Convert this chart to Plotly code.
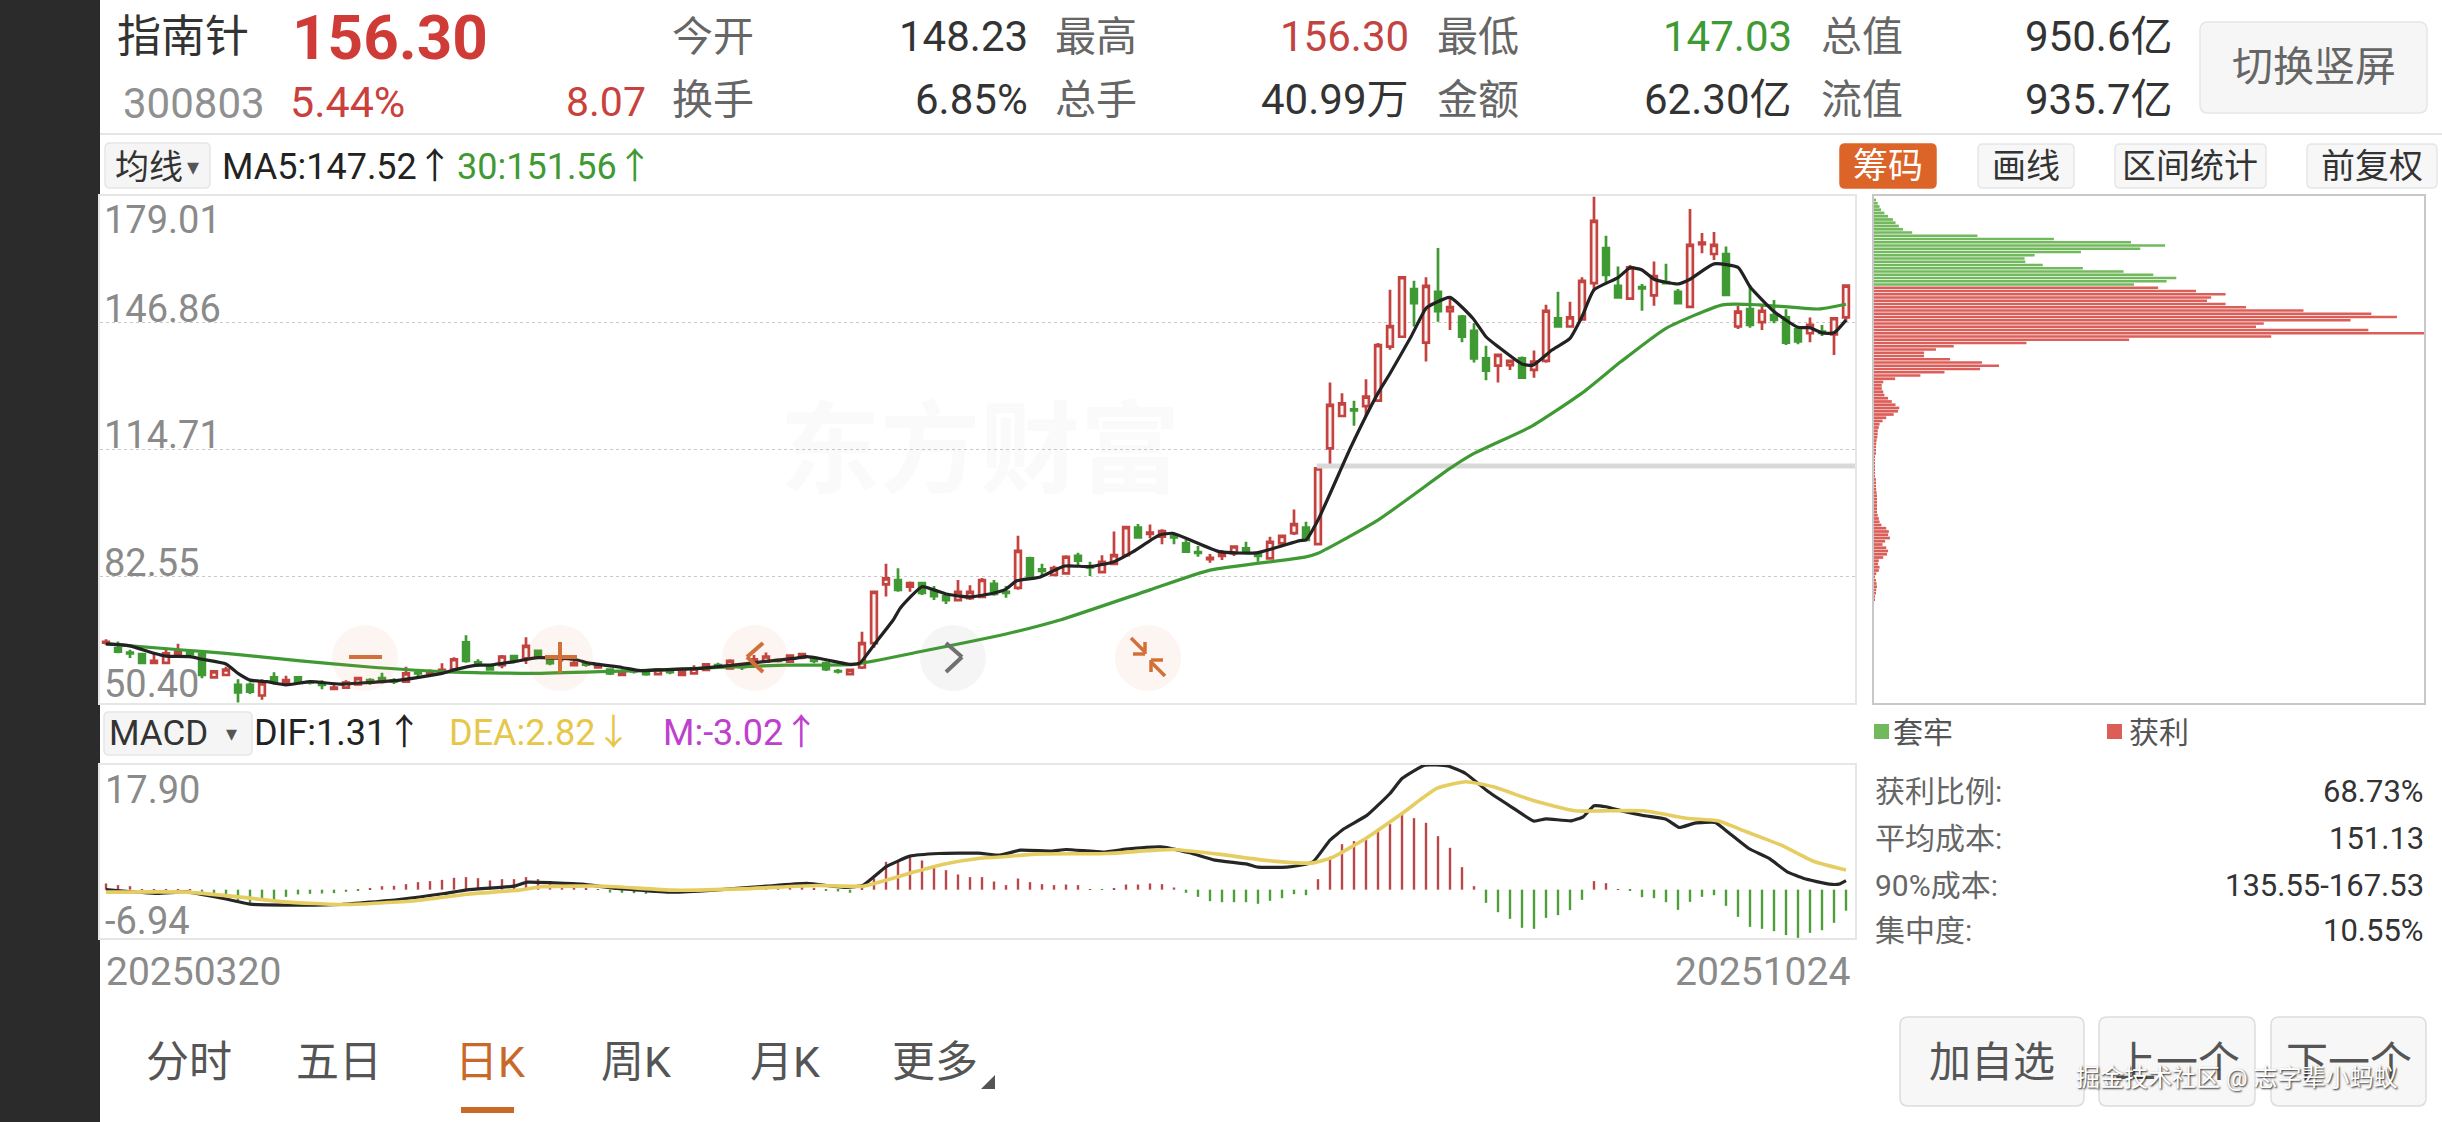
import plotly.graph_objects as go

W, H = 2442, 1122

# ---------- price data, one entry per trading day 20250320 .. 20251024 ----------
opens = [65.7,64.3,63.2,62.8,60.6,60.6,62.8,63.2,62.8,56.9,57.5,55.0,55.0,52.3,56.9,55.4,56.9,55.7,55.2,54.0,
54.3,55.1,56.2,56.7,56.1,55.8,58.1,57.9,58.4,58.9,65.8,60.7,59.8,60.0,62.3,61.7,63.6,61.9,61.9,60.0,
60.3,59.4,58.9,57.5,58.5,58.6,57.7,58.4,57.5,57.9,58.8,60.0,59.2,59.6,60.5,60.9,61.3,60.9,61.9,61.5,
60.5,58.5,57.7,59.4,65.6,80.5,81.6,79.9,80.8,78.7,77.5,76.5,77.0,77.3,80.6,78.6,79.6,87.1,84.3,82.9,
83.3,87.7,85.0,83.6,85.7,87.9,94.9,93.3,92.6,92.8,90.9,88.7,86.9,87.7,88.4,89.6,88.4,87.1,90.9,93.5,
94.9,90.7,115.0,123.2,124.9,125.7,127.1,140.8,143.3,155.4,141.8,154.7,149.8,148.4,144.8,137.8,136.0,136.1,137.8,134.9,
137.2,148.0,145.9,147.7,156.9,165.8,156.2,153.0,155.9,153.8,157.2,154.7,150.9,166.8,164.3,164.3,145.9,150.3,147.0,148.8,
148.2,145.2,144.2,144.6,143.9,148.23]
highs = [66.6,66.0,63.9,63.0,63.0,64.3,65.4,64.0,63.2,58.6,59.6,56.4,55.6,56.4,58.2,57.3,57.1,56.2,56.2,55.4,
56.2,56.9,56.7,58.1,56.7,59.6,58.8,58.9,60.5,62.0,67.6,61.5,60.3,62.6,62.6,67.1,64.0,62.3,62.6,61.5,
60.9,60.3,59.2,58.9,58.9,58.9,59.2,58.8,58.9,60.0,60.5,60.6,61.5,60.3,62.6,63.2,61.7,62.6,63.0,61.9,
60.9,59.0,58.9,68.5,78.8,85.7,84.6,81.2,81.0,80.1,78.0,81.6,80.3,82.1,81.6,80.1,92.8,87.5,85.7,85.2,
87.9,88.5,86.2,87.9,93.9,95.3,95.8,95.7,94.5,93.5,91.8,90.2,88.2,89.2,90.2,91.3,88.8,92.6,93.0,99.5,
96.4,110.3,131.7,129.0,127.1,132.5,141.7,155.2,158.5,157.5,158.4,165.8,153.1,148.8,146.7,141.0,138.9,137.4,138.3,139.8,
151.4,154.7,152.2,158.4,178.8,168.9,161.1,161.5,156.7,162.4,161.8,155.4,175.7,169.6,169.9,166.2,151.1,156.4,151.4,152.6,
150.3,146.0,148.2,146.3,148.1,156.30]
lows = [65.1,63.0,61.8,60.2,60.6,60.5,62.8,62.0,56.7,56.7,57.5,50.5,52.7,51.2,55.0,55.0,55.4,55.1,53.9,54.0,
54.1,55.0,55.0,55.4,55.2,55.6,57.1,57.8,57.9,58.4,60.6,59.6,58.6,59.2,60.5,60.3,61.7,60.0,60.9,59.8,
59.6,59.2,57.5,57.3,57.9,57.3,57.5,57.7,57.3,57.8,58.6,59.2,59.0,58.8,60.3,60.6,60.7,60.7,61.5,60.5,
58.5,57.9,57.6,59.0,64.4,77.4,78.6,78.6,77.8,76.5,75.5,76.3,76.5,77.0,77.6,77.1,79.1,81.6,82.9,82.6,
83.2,85.0,82.6,83.4,85.4,87.5,92.3,92.2,90.7,90.7,88.5,87.5,86.0,86.7,87.7,88.5,86.2,86.9,90.5,93.0,
91.6,90.6,111.0,123.0,120.7,123.2,126.8,140.0,143.2,145.9,137.0,147.1,145.0,141.9,136.8,132.3,131.7,134.9,132.8,132.9,
136.7,145.7,145.7,147.5,155.2,156.9,153.3,152.8,149.9,151.2,156.9,151.5,150.8,164.5,162.8,153.7,145.3,145.6,145.0,146.7,
141.2,141.4,141.9,143.5,138.7,147.03]
closes = [65.9,63.4,63.0,60.6,61.1,63.0,63.7,62.8,57.5,58.4,58.9,53.1,53.3,55.4,55.6,56.2,55.8,55.6,55.0,54.3,
55.6,56.7,55.7,56.4,55.9,57.9,57.9,58.4,58.8,61.5,61.1,60.5,58.9,62.2,61.1,64.9,62.3,60.5,62.2,60.5,
60.1,59.8,57.9,58.4,58.4,57.7,58.9,58.2,58.4,59.2,60.2,59.6,61.1,59.5,61.5,62.2,61.1,62.4,62.8,61.1,
59.0,58.4,58.8,65.6,78.6,82.0,79.1,80.8,78.3,77.5,76.5,78.6,78.6,81.6,78.1,78.3,89.0,82.0,83.9,84.6,
87.5,86.5,84.8,86.2,87.9,95.0,92.4,93.6,94.0,92.4,88.8,88.5,87.2,88.4,90.1,89.0,87.7,91.3,92.8,95.8,
91.8,109.9,126.0,126.4,124.6,128.1,141.2,146.0,158.4,151.8,156.2,149.8,150.8,143.3,137.8,134.7,138.7,137.2,132.9,137.0,
149.9,145.9,148.2,157.5,172.7,159.0,153.3,160.9,155.6,158.7,156.9,151.8,166.6,167.2,166.6,153.9,149.7,146.3,149.9,147.6,
141.8,142.1,146.3,144.3,148.0,156.30]
days = list(range(len(closes)))

ma5_day = [0,2,4,5,7,8,10,11,12,13.4,15,17,19.5,21.7,24.5,28,29,31,32,34,36,39,40.3,43,44.5,46,49.5,51.7,54.8,57.3,58.4,59.8,62,62.8,64.2,65.6,66.2,68,69,70,72,74,75,75.9,77.8,79.9,82,84,85.6,87.8,88.9,92.8,95.9,99.5,100,101,103.75,106,107,108.75,110,110.7,112,113.9,115,116,118,118.9,120.5,122,123,124,126,127,128,129,131,132,134,136,137,139,141,142,143,144,145]
ma5_val = [65.4,64.9,63.0,62.3,62.15,61.5,60.3,57.9,56.2,55.8,55.0,55.8,55.2,55.55,56.2,57.9,58.8,60.0,60.0,60.9,61.9,61.5,60.5,59.4,58.6,58.8,59.2,59.8,60.9,61.7,62.15,61.5,60.2,60.5,65.95,71.45,74.5,79.9,79.1,78.05,77.3,78.3,79.3,81.4,82.3,85.15,85.0,86.25,88.8,93.0,93.45,88.8,88.5,91.6,91.75,96.8,115.4,129.0,134.0,143.3,150.5,151.8,153.3,148.0,143.3,140.8,136.4,136.1,139.95,142.9,148.4,155.2,158.3,160.8,160.25,157.9,156.7,157.9,161.8,160.9,156.0,149.7,145.7,145.6,144.3,144.3,147.52]

ma30_day = [0,6.4,10,16.2,21.7,28.4,35.6,42.8,44.5,51,56.7,62.3,67.8,75,79.5,87,92,99.9,101,106,112,114,118.75,123,126.25,130,134.7,137.8,142.7,145]
ma30_val = [65.4,63.85,63.0,61.1,59.6,58.3,57.9,58.5,58.6,59.4,60.0,60.2,63.4,67.9,71.45,79.1,84.1,87.4,88.4,96.8,109.9,113.7,120.5,129.0,137.0,145.45,151.4,151.4,150.35,151.56]

band_day = [100.9, 145.75]
band_val = [110.5, 110.5]

price_ticks = [146.86, 114.71, 82.55]

# ---------- MACD ----------
macd_m = [.89,.65,.50,.07,.05,.07,.07,.02,-.65,-.89,-1.03,-1.51,-1.89,-1.60,-1.36,-1.03,-.69,-.60,-.55,-.50,
-.31,-.07,.22,.50,.55,.79,1.08,1.22,1.41,1.70,1.80,1.65,1.32,1.51,1.51,1.80,1.51,.98,.74,.41,
.26,.07,-.41,-.45,-.50,-.60,-.45,-.36,-.41,-.31,-.07,-.02,.22,.31,.31,.65,.55,.50,.55,.26,
-.17,-.26,-.45,.26,1.60,4.0,4.09,4.62,4.19,3.52,2.80,2.18,1.80,1.80,1.17,.65,1.60,1.08,.79,.65,
.74,.65,.02,-.02,.12,.74,.74,.89,.79,.31,-.45,-1.03,-1.65,-1.80,-1.80,-1.80,-2.03,-1.60,-1.22,-.65,
-.79,1.51,4.72,6.53,6.97,7.20,8.55,9.41,10.94,10.27,9.60,7.68,6.01,3.23,.50,-1.89,-3.23,-4.19,-5.48,-5.62,
-4.05,-3.66,-2.94,-1.46,1.22,.93,.02,-.12,-1.08,-1.22,-1.80,-2.90,-1.75,-1.03,-.79,-2.32,-3.90,-5.34,-5.62,-5.96,
-6.53,-6.92,-6.20,-5.82,-4.76,-3.02]

dif_day = [0,4.3,6.7,9.8,12,16.2,19.6,24.4,28.2,30.1,34,35.1,37.3,39.7,42.6,47.3,50.7,55,58.4,61.7,63.1,65,67,69.4,72.7,74.5,76.2,78.8,80,83.1,85,87.9,90.3,92.4,95.1,96,98.4,99.4,100.6,102,103.2,105.1,107,108,109.9,111.8,113.3,115.2,117.1,119,120,122.1,123.1,124,125,126.4,128.1,130,131.1,132.4,134.1,135.3,136.9,138.6,140.1,141.5,143.6,144.4,145]
dif_val = [.02,-.55,-.31,-1.27,-2.08,-2.23,-2.13,-1.41,-.55,-.02,.5,1.08,.98,.79,.17,-.36,-.07,.5,.89,.31,.65,3.28,4.81,5.19,5.24,4.95,5.67,5.53,5.77,5.39,5.82,6.15,5.29,4.24,3.66,3.23,3.23,3.47,4.0,7.11,8.78,10.70,13.81,15.96,17.88,17.78,16.68,14.05,11.9,9.84,10.17,9.88,10.46,12.04,11.9,11.27,10.65,10.12,8.93,9.55,9.64,8.07,5.91,4.48,2.56,1.60,.79,.79,1.31]

dea_day = [0,6.7,11,14.8,20,25.8,30.1,34.4,36.3,41.6,47.3,53.1,59.3,63.1,65,67.4,69.8,72.7,74.5,77.4,83.4,88.9,92.7,97,100.6,102.3,105.1,108,110.9,113.3,115.6,119,122.4,124.7,128.1,131.9,134.3,136.7,139.6,142.4,145]
dea_val = [-.36,-.36,-1.03,-1.75,-2.13,-1.6,-.65,-.07,.41,.5,-.07,.12,.6,.5,1.36,2.56,3.66,4.48,4.68,5.1,5.19,5.77,5.1,4.14,3.85,4.72,7.49,10.94,14.53,15.49,14.77,12.76,11.32,11.32,11.32,10.22,9.88,8.31,6.39,4.0,2.82]

# ---------- chip distribution, rows from the top of the panel ----------
chip_green = [3,10,15,19,28,38,51,58,67,78,103,279,485,693,785,718,558,433,406,408,455,563,673,753,815,789,701]
chip_red = [766,868,948,909,898,948,1003,1158,1341,1410,1285,1051,1030,1333,1483,1071,688,411,215,167,135,135,205,291,337,286,190,125,57,25,
21,21,25,28,38,48,58,68,65,53,33,23,15,13,10,10,9,7,6,5,4,3,2,1,1,1,1,1,2,3,4,5,6,7,8,8,8,8,8,8,10,13,15,20,33,40,38,43,30,23,33,38,35,25,13,11,15,13,6,2,3,7,8,6,4,2,1]
chip_green_rows = list(range(len(chip_green)))
chip_red_rows = list(range(len(chip_green), len(chip_green) + len(chip_red)))

RED = "#c2433f"
GREEN = "#3f9a33"
FONT = "Roboto, 'Noto Sans CJK SC', sans-serif"


def px(x):
    return x / W


def py(y):
    return 1 - y / H


fig = go.Figure()
fig.add_trace(go.Scatter(x=band_day, y=band_val, mode="lines", line=dict(color="#d9d9d9", width=5), hoverinfo="skip"))
fig.add_trace(go.Candlestick(
    x=days, open=opens, high=highs, low=lows, close=closes, whiskerwidth=0,
    increasing=dict(line=dict(color=RED, width=2.7), fillcolor="#fff6f4"),
    decreasing=dict(line=dict(color=GREEN, width=2.7), fillcolor=GREEN),
))
fig.add_trace(go.Scatter(x=ma30_day, y=ma30_val, mode="lines", line=dict(color=GREEN, width=3.2, shape="spline", smoothing=0.5)))
fig.add_trace(go.Scatter(x=ma5_day, y=ma5_val, mode="lines", line=dict(color="#222222", width=3.2, shape="spline", smoothing=0.5)))

fig.add_trace(go.Bar(y=chip_green_rows, x=chip_green, orientation="h", width=0.84, marker=dict(color="#72b85c", line_width=0), xaxis="x2", yaxis="y2"))
fig.add_trace(go.Bar(y=chip_red_rows, x=chip_red, orientation="h", width=0.84, marker=dict(color="#dc5e59", line_width=0), xaxis="x2", yaxis="y2"))

fig.add_trace(go.Bar(x=days, y=macd_m, width=0.2, marker=dict(color=["#b8474a" if v > 0 else "#4f9e3a" for v in macd_m], line_width=0), xaxis="x3", yaxis="y3"))
fig.add_trace(go.Scatter(x=dif_day, y=dif_val, mode="lines", line=dict(color="#262626", width=3.2, shape="spline", smoothing=0.4), xaxis="x3", yaxis="y3", cliponaxis=False))
fig.add_trace(go.Scatter(x=dea_day, y=dea_val, mode="lines", line=dict(color="#e6cd62", width=3.6, shape="spline", smoothing=0.5), xaxis="x3", yaxis="y3"))

annots = []


def label(x, y, s, size=38, color="#333333", anchor="left", bold=False, **kw):
    text = f"<b>{s}</b>" if bold else s
    annots.append(dict(x=px(x), y=py(y), xref="paper", yref="paper", text=text, showarrow=False,
                       xanchor=anchor, yanchor="middle", borderpad=0, borderwidth=0,
                       font=dict(family=FONT, size=size, color=color, **kw)))


shapes = []


def rect(x0, y0, x1, y1, fill, line=None, lw=0, layer="below"):
    shapes.append(dict(type="rect", xref="paper", yref="paper", x0=px(x0), x1=px(x1), y0=py(y1), y1=py(y0),
                       fillcolor=fill, line=dict(color=line or fill, width=lw), layer=layer))


def rbox(x0, y0, x1, y1, r, fill, line="#e6e6e6"):
    xs = lambda v: f"{px(v):.6f}"
    ys = lambda v: f"{py(v):.6f}"
    path = (f"M {xs(x0 + r)} {ys(y0)} L {xs(x1 - r)} {ys(y0)} Q {xs(x1)} {ys(y0)} {xs(x1)} {ys(y0 + r)} "
            f"L {xs(x1)} {ys(y1 - r)} Q {xs(x1)} {ys(y1)} {xs(x1 - r)} {ys(y1)} L {xs(x0 + r)} {ys(y1)} "
            f"Q {xs(x0)} {ys(y1)} {xs(x0)} {ys(y1 - r)} L {xs(x0)} {ys(y0 + r)} Q {xs(x0)} {ys(y0)} {xs(x0 + r)} {ys(y0)} Z")
    shapes.append(dict(type="path", xref="paper", yref="paper", path=path, fillcolor=fill,
                       line=dict(color=line, width=1.5), layer="below"))


def stroke(x0, y0, x1, y1, color, width=4, layer="above"):
    shapes.append(dict(type="line", xref="paper", yref="paper", x0=px(x0), x1=px(x1), y0=py(y0), y1=py(y1),
                       line=dict(color=color, width=width), layer=layer))


def circle(cx, cy, r, fill):
    shapes.append(dict(type="circle", xref="paper", yref="paper", x0=px(cx - r), x1=px(cx + r), y0=py(cy + r), y1=py(cy - r),
                       fillcolor=fill, line=dict(width=0), layer="above"))


# page chrome
rect(0, 0, 100, H, "#2b2b2b")
stroke(100, 134, W, 134, "#dddddd", 1.5, "below")

# header
label(117, 37, "指南针", 44, "#333333")
label(292, 38, "156.30", 62, "#cf3b36", bold=True)
label(123, 103, "300803", 42, "#909090")
label(290, 102, "5.44%", 43, "#c9413d")
label(646, 102, "8.07", 41, "#c9413d", "right")
for x, y, s in [(672, 37, "今开"), (1055, 37, "最高"), (1437, 37, "最低"), (1821, 37, "总值"),
                (672, 100, "换手"), (1055, 100, "总手"), (1437, 100, "金额"), (1821, 100, "流值")]:
    label(x, y, s, 41, "#666666")
for x, y, s, c in [(1028, 37, "148.23", "#333333"), (1409, 37, "156.30", "#c2433f"), (1792, 37, "147.03", GREEN), (2173, 37, "950.6亿", "#333333"),
                   (1028, 100, "6.85%", "#333333"), (1409, 100, "40.99万", "#333333"), (1792, 100, "62.30亿", "#333333"), (2173, 100, "935.7亿", "#333333")]:
    label(x, y, s, 42, c, "right")
rbox(2200, 22, 2427, 113, 8, "#f6f6f6")
label(2314, 67, "切换竖屏", 41, "#666666", "center")

# indicator row
rbox(105, 143, 210, 188, 5, "#f5f5f5")
label(115, 167, "均线", 34, "#333333")
label(187, 167, "▾", 24, "#555555")
label(222, 167, "MA5:147.52↑", 36, "#222222")
label(457, 167, "30:151.56↑", 36, GREEN)
rbox(1840, 144, 1936, 188, 5, "#dc6428", "#dc6428")
label(1888, 166, "筹码", 35, "#ffffff", "center")
rbox(1978, 144, 2074, 188, 5, "#f7f7f7")
label(2026, 166, "画线", 34, "#333333", "center")
rbox(2115, 144, 2266, 188, 5, "#f7f7f7")
label(2190, 166, "区间统计", 34, "#333333", "center")
rbox(2307, 144, 2437, 188, 5, "#f7f7f7")
label(2372, 166, "前复权", 34, "#333333", "center")

# price labels
for y, s in [(220, "179.01"), (309, "146.86"), (435, "114.71"), (563, "82.55"), (684, "50.40")]:
    label(104, y, s, 38, "#8a8a8a")
annots.append(dict(x=px(980), y=py(450), xref="paper", yref="paper", text="<b>东方财富</b>", showarrow=False,
                   font=dict(family=FONT, size=100, color="rgba(120,120,120,0.04)")))

# floating buttons
ORANGE = "#d2703a"
for cx in (365, 560, 755, 1148):
    circle(cx, 658, 33, "rgba(226,120,60,0.07)")
circle(953, 658, 33, "rgba(110,110,110,0.07)")
stroke(349, 657, 382, 657, ORANGE)
stroke(545, 657, 577, 657, ORANGE)
stroke(560, 642, 560, 673, ORANGE)
stroke(763, 643, 747, 657, ORANGE)
stroke(747, 657, 763, 672, ORANGE)
stroke(946, 643, 962, 657, "#707070")
stroke(962, 657, 946, 672, "#707070")
stroke(1131, 638, 1145, 652, ORANGE, 3.5)
stroke(1145, 642, 1145, 654, ORANGE, 3.5)
stroke(1133, 654, 1145, 654, ORANGE, 3.5)
stroke(1165, 676, 1151, 662, ORANGE, 3.5)
stroke(1151, 660, 1151, 672, ORANGE, 3.5)
stroke(1151, 660, 1163, 660, ORANGE, 3.5)

# MACD row
rbox(104, 712, 252, 755, 5, "#f5f5f5")
label(109, 733, "MACD", 35, "#333333")
label(226, 733, "▾", 22, "#555555")
label(254, 733, "DIF:1.31↑", 36, "#222222")
label(449, 733, "DEA:2.82↓", 36, "#e6c74a")
label(663, 733, "M:-3.02↑", 36, "#bf3fce")
label(105, 790, "17.90", 38, "#8a8a8a")
label(105, 921, "-6.94", 38, "#8a8a8a")
label(106, 972, "20250320", 39, "#8a8a8a")
label(1850, 972, "20251024", 39, "#8a8a8a", "right")

# chip panel legend and statistics
rect(1874, 724, 1889, 739, "#72b85c")
label(1893, 732, "套牢", 30, "#555555")
rect(2107, 724, 2122, 739, "#dc5e59")
label(2129, 732, "获利", 30, "#555555")
for y, a, b in [(791, "获利比例:", "68.73%"), (838, "平均成本:", "151.13"), (885, "90%成本:", "135.55-167.53"), (931, "集中度:", "10.55%")]:
    label(1875, y, a, 30, "#666666")
    label(2424, y, b, 31, "#333333", "right")

# bottom tabs
for x, s, c in [(146, "分时", "#555555"), (296, "五日", "#555555"), (455, "日K", "#c8692a"), (601, "周K", "#555555"), (750, "月K", "#555555"), (892, "更多", "#555555")]:
    label(x, 1062, s, 43, c)
shapes.append(dict(type="path", xref="paper", yref="paper", fillcolor="#555555", line=dict(width=0), layer="below",
                   path=f"M {px(981):.6f} {py(1089):.6f} L {px(995):.6f} {py(1089):.6f} L {px(995):.6f} {py(1075):.6f} Z"))
stroke(461, 1110, 514, 1110, "#c8692a", 6, "below")
for x0, x1, s in [(1900, 2084, "加自选"), (2099, 2255, "上一个"), (2271, 2426, "下一个")]:
    rbox(x0, 1017, x1, 1106, 8, "#f7f7f7", "#dddddd")
    label((x0 + x1) / 2, 1062, s, 42, "#555555", "center")
label(2076, 1078, "掘金技术社区 @ 志字辈小蚂蚁", 24, "#ffffff", shadow="1px 1px 2px #222222")

ax_line = dict(showline=True, linecolor="#e6e6e6", linewidth=2, mirror=True, zeroline=False, showgrid=False, showticklabels=False, ticks="", fixedrange=True)
x_range = [-0.5, 145.75]

fig.update_layout(
    width=W, height=H, margin=dict(l=0, r=0, t=0, b=0), paper_bgcolor="#ffffff", plot_bgcolor="rgba(0,0,0,0)",
    showlegend=False, hovermode=False, barmode="overlay", boxgap=0.32, boxmode="overlay",
    font=dict(family=FONT),
    xaxis=dict(domain=[px(100), px(1855)], range=x_range, rangeslider=dict(visible=False), anchor="y", **ax_line),
    yaxis=dict(domain=[py(703), py(196)], range=[50.40, 179.01], anchor="x",
               **{**ax_line, "showgrid": True}, gridcolor="#c9c9c9", griddash="dot", gridwidth=1, tickvals=price_ticks),
    xaxis2=dict(domain=[px(1874), px(2424)], range=[0, 1483], anchor="y2", **{**ax_line, "linecolor": "#c8c8c8"}),
    yaxis2=dict(domain=[py(703), py(196)], range=[154.77, -1.23], anchor="x2", **{**ax_line, "linecolor": "#c8c8c8"}),
    xaxis3=dict(domain=[px(100), px(1855)], range=x_range, anchor="y3", **ax_line),
    yaxis3=dict(domain=[py(938), py(765)], range=[-6.94, 17.90], anchor="x3", **ax_line),
    annotations=annots, shapes=shapes,
)

fig.write_html("out.html", config={"displayModeBar": False}, post_script="document.body.style.margin='0';document.body.style.overflow='hidden';")
